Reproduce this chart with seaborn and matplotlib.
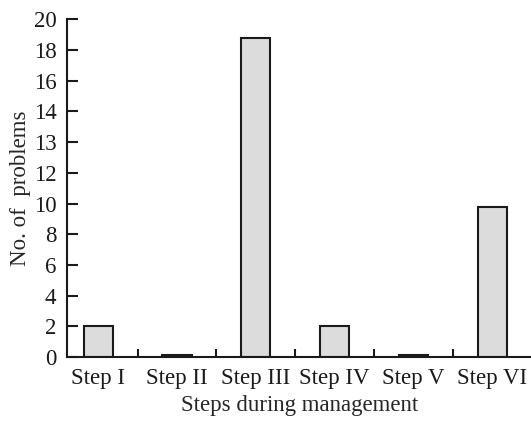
import numpy as np
import pandas as pd
import seaborn as sns
import matplotlib.pyplot as plt
from matplotlib.ticker import FixedLocator, FixedFormatter

steps = ["Step I", "Step II", "Step III", "Step IV", "Step V", "Step VI"]
problems = [2, 0.1, 18.8, 2, 0.1, 9.8]
# the printed axis has evenly spaced ticks, including a stray "13"
ytick_labels = [0, 2, 4, 6, 8, 10, 12, 13, 14, 16, 18, 20]

sns.set_theme(style="ticks")
plt.rcParams['font.family'] = ['Liberation Serif', 'DejaVu Serif']

label_vals = np.array(ytick_labels, dtype=float)
label_pos = np.arange(len(ytick_labels), dtype=float)


def forward(v):
    return np.interp(v, label_vals, label_pos)


def inverse(p):
    return np.interp(p, label_pos, label_vals)


df = pd.DataFrame({"step": steps, "problems": problems})

fig = plt.figure(figsize=(5.31, 4.21), dpi=100)
ax = fig.add_axes([0.127, 0.152, 0.873, 0.802])

sns.barplot(data=df, x="step", y="problems", color="#dcdcdc",
            edgecolor="#1a1a1a", linewidth=1.5, width=0.37, saturation=1,
            ax=ax)

ax.set_yscale("function", functions=(forward, inverse))
ax.set_ylim(0, 20)
ax.yaxis.set_major_locator(FixedLocator(ytick_labels))
ax.yaxis.set_major_formatter(FixedFormatter([str(v) for v in ytick_labels]))
ax.yaxis.set_minor_locator(FixedLocator([]))
ax.set_xlim(-0.39, 5.49)

# x ticks sit on the boundaries between categories
ax.set_xticks(np.arange(len(steps)))
ax.set_xticklabels(steps)
ax.tick_params(axis="x", length=0, labelsize=16.5, pad=8, colors="#1a1a1a")
ax.set_xticks(np.arange(len(steps) - 1) + 0.5, minor=True)
ax.tick_params(axis="x", which="minor", direction="in", length=6, width=1.5,
               color="#1a1a1a")
ax.tick_params(axis="y", direction="in", length=8, width=1.5, labelsize=16.5,
               pad=8, colors="#1a1a1a")

for side in ["top", "right"]:
    ax.spines[side].set_visible(False)
for side in ["left", "bottom"]:
    ax.spines[side].set_linewidth(1.5)
    ax.spines[side].set_color("#1a1a1a")

ax.set_xlabel("Steps during management", fontsize=16.5, labelpad=4)
ax.set_ylabel("No. of  problems", fontsize=16.5, labelpad=2)

fig.savefig("out.png", dpi=100)
